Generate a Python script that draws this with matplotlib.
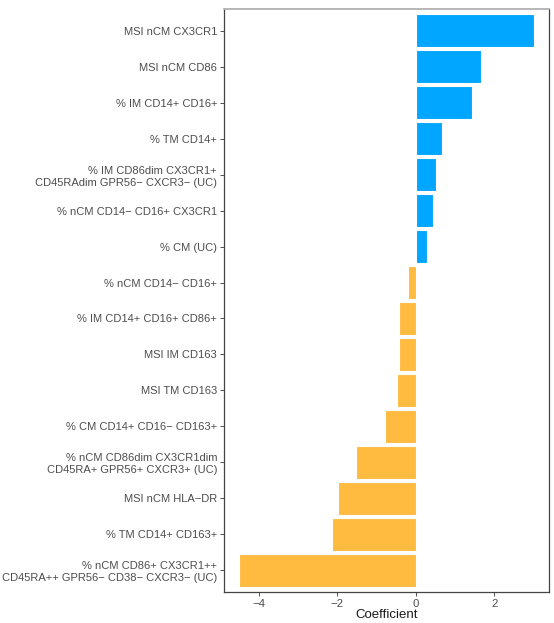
import numpy as np
import matplotlib
matplotlib.use("Agg")
import matplotlib.pyplot as plt

plt.rcParams['font.family'] = ['Liberation Sans', 'DejaVu Sans']

# features, top to bottom
labels = [
    "MSI nCM CX3CR1",
    "MSI nCM CD86",
    "% IM CD14+ CD16+",
    "% TM CD14+",
    "% IM CD86dim CX3CR1+\nCD45RAdim GPR56\u2212 CXCR3\u2212 (UC)",
    "% nCM CD14\u2212 CD16+ CX3CR1",
    "% CM (UC)",
    "% nCM CD14\u2212 CD16+",
    "% IM CD14+ CD16+ CD86+",
    "MSI IM CD163",
    "MSI TM CD163",
    "% CM CD14+ CD16\u2212 CD163+",
    "% nCM CD86dim CX3CR1dim\nCD45RA+ GPR56+ CXCR3+ (UC)",
    "MSI nCM HLA\u2212DR",
    "% TM CD14+ CD163+",
    "% nCM CD86+ CX3CR1++\nCD45RA++ GPR56\u2212 CD38\u2212 CXCR3\u2212 (UC)",
]
coefs = [3.01, 1.65, 1.42, 0.67, 0.52, 0.45, 0.28, -0.20,
         -0.42, -0.42, -0.49, -0.79, -1.53, -1.98, -2.14, -4.51]

pos_col = '#00A6FF'
neg_col = '#FFBA40'

fig = plt.figure(figsize=(5.54, 6.23), dpi=100)
ax = fig.add_axes([224 / 554, 1 - 592 / 623, (549 - 224) / 554, (592 - 9) / 623])

y = np.arange(len(labels))
colors = [pos_col if c > 0 else neg_col for c in coefs]
ax.barh(y, coefs, height=0.9, color=colors, edgecolor='white', linewidth=0.8)

ax.set_ylim(len(labels) - 1 + 0.6, -0.6)
ax.set_xlim(-4.88, 3.39)
ax.set_yticks(y)
ax.set_yticklabels(labels, fontsize=8, color='#4d4d4d', linespacing=1.25)
ax.set_xticks([-4, -2, 0, 2])
ax.set_xticklabels(['\u22124', '\u22122', '0', '2'], fontsize=8.2, color='#4d4d4d')
ax.tick_params(axis='both', length=3, width=0.6, color='#333333', pad=2)
ax.set_xlabel('Coefficient', fontsize=9.5, color='#1a1a1a', labelpad=0)

for side in ['left', 'bottom', 'right']:
    ax.spines[side].set_color('#444444')
    ax.spines[side].set_linewidth(0.9)
ax.spines['top'].set_color('#aaaaaa')
ax.spines['top'].set_linewidth(1.2)

fig.savefig('out.png', dpi=100)
